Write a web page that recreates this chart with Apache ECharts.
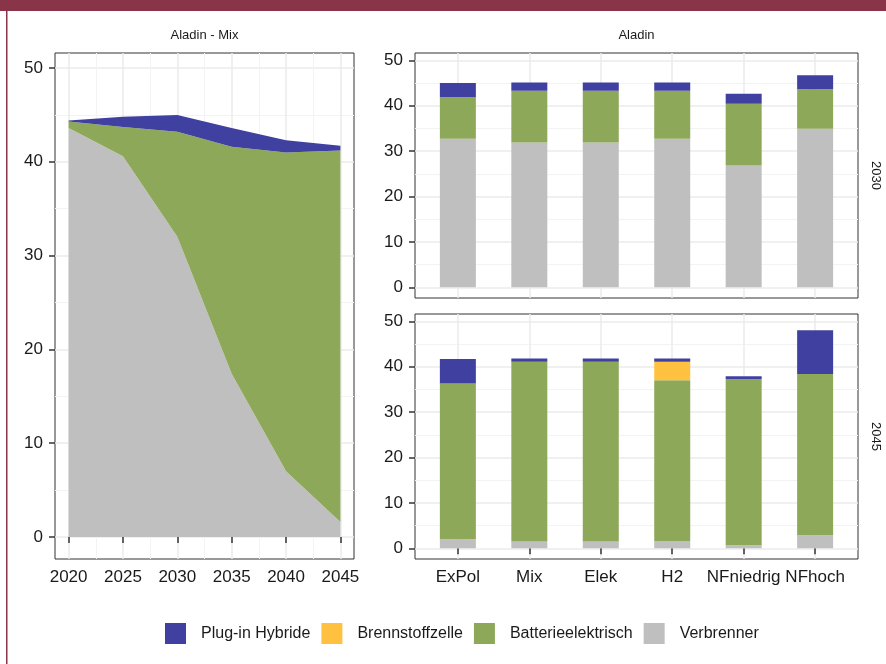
<!DOCTYPE html>
<html>
<head>
<meta charset="utf-8">
<script src="https://cdn.jsdelivr.net/npm/echarts@6/dist/echarts.min.js"></script>
<style>
  html, body { margin: 0; padding: 0; background: #fff; }
  #main { width: 886px; height: 664px; }
</style>
</head>
<body>
<div id="main"></div>
<script>
// Aladin - Mix, development over time
var years = [2020, 2025, 2030, 2035, 2040, 2045];
var mixVerbrenner = [43.6, 40.6, 32.0, 17.4, 7.0, 1.6];
var mixBatterie = [0.7, 3.1, 11.2, 24.2, 34.0, 39.6];
var mixBrennstoff = [0, 0, 0, 0, 0, 0];
var mixPlugin = [0.1, 1.1, 1.8, 2.0, 1.3, 0.5];

// Aladin scenarios, 2030 and 2045
var scenarios = ['ExPol', 'Mix', 'Elek', 'H2', 'NFniedrig', 'NFhoch'];
var verbrenner2030 = [32.7, 31.9, 31.9, 32.7, 26.8, 34.9];
var batterie2030 = [9.2, 11.4, 11.4, 10.6, 13.6, 8.7];
var brennstoff2030 = [0, 0, 0, 0, 0, 0];
var plugin2030 = [3.1, 1.8, 1.8, 1.8, 2.2, 3.1];
var verbrenner2045 = [2.0, 1.5, 1.5, 1.6, 0.7, 2.9];
var batterie2045 = [34.3, 39.6, 39.6, 35.4, 36.6, 35.5];
var brennstoff2045 = [0, 0, 0, 4.1, 0, 0];
var plugin2045 = [5.4, 0.7, 0.7, 0.7, 0.6, 9.6];

var yTicks = [0, 10, 20, 30, 40, 50];
var yMinorTicks = [5, 15, 25, 35, 45];
var yearMinorTicks = [2022.5, 2027.5, 2032.5, 2037.5, 2042.5];
var scenarioTicks = [1, 2, 3, 4, 5, 6];

var names = ['Plug-in Hybride', 'Brennstoffzelle', 'Batterieelektrisch', 'Verbrenner'];
var colors = {
    'Plug-in Hybride': '#4040A0',
    'Brennstoffzelle': '#FFC13F',
    'Batterieelektrisch': '#8EA85A',
    'Verbrenner': '#BFBFBF'
};

var yMin = -2.35, yMax = 51.6;
var font = 'Liberation Sans';
var axisText = { color: '#1a1a1a', fontSize: 17, fontFamily: font };
var tickStyle = { color: '#333', width: 1.5 };

function yMajor(grid) {
    return {
        type: 'value', gridIndex: grid, min: yMin, max: yMax,
        axisLine: { show: false },
        axisTick: { show: true, length: 6, customValues: yTicks, lineStyle: tickStyle },
        axisLabel: Object.assign({ customValues: yTicks, margin: 12 }, axisText),
        splitLine: { show: true, lineStyle: { color: '#EBEBEB', width: 1.5 } }
    };
}
function minorAxis(grid, min, max, ticks) {
    return {
        type: 'value', gridIndex: grid, min: min, max: max,
        axisLine: { show: false },
        axisTick: { show: false, length: 0, customValues: ticks },
        axisLabel: { show: false, customValues: ticks },
        splitLine: { show: true, lineStyle: { color: '#F3F3F3', width: 1 } }
    };
}
function scenarioAxis(grid, showLabels) {
    return {
        type: 'value', gridIndex: grid, min: 0.4, max: 6.6,
        axisLine: { show: false },
        axisTick: {
            show: showLabels, length: showLabels ? 6 : 0, customValues: scenarioTicks,
            lineStyle: showLabels ? tickStyle : { width: 0 }
        },
        axisLabel: Object.assign({
            show: showLabels, customValues: scenarioTicks, margin: 10,
            formatter: function (v) { return scenarios[Math.round(v) - 1]; }
        }, axisText),
        splitLine: { show: true, lineStyle: { color: '#EBEBEB', width: 1.5 } }
    };
}

// value first so the y dimension is the one that gets stacked
function pairs(xs, vals) {
    return xs.map(function (x, i) { return [vals[i], x]; });
}
var order = ['Verbrenner', 'Batterieelektrisch', 'Brennstoffzelle', 'Plug-in Hybride'];

var barSeries = [];
var panels = [
    { idx: 1, stack: 's2030', vals: { 'Verbrenner': verbrenner2030, 'Batterieelektrisch': batterie2030, 'Brennstoffzelle': brennstoff2030, 'Plug-in Hybride': plugin2030 } },
    { idx: 2, stack: 's2045', vals: { 'Verbrenner': verbrenner2045, 'Batterieelektrisch': batterie2045, 'Brennstoffzelle': brennstoff2045, 'Plug-in Hybride': plugin2045 } }
];
panels.forEach(function (p) {
    order.forEach(function (n) {
        barSeries.push({
            name: n, type: 'bar', stack: p.stack,
            xAxisIndex: p.idx, yAxisIndex: p.idx,
            barWidth: 36,
            encode: { x: 1, y: 0 },
            itemStyle: { color: colors[n] },
            data: pairs(scenarioTicks, p.vals[n])
        });
    });
});

var mixVals = { 'Verbrenner': mixVerbrenner, 'Batterieelektrisch': mixBatterie, 'Brennstoffzelle': mixBrennstoff, 'Plug-in Hybride': mixPlugin };
var areaSeries = order.map(function (n) {
    return {
        name: n, type: 'line', stack: 'mix',
        xAxisIndex: 0, yAxisIndex: 0,
        symbol: 'none', color: colors[n],
        encode: { x: 1, y: 0 },
        lineStyle: { width: 0, color: colors[n] },
        itemStyle: { color: colors[n] },
        areaStyle: { color: colors[n], opacity: 1 },
        data: pairs(years, mixVals[n])
    };
});

var chart = echarts.init(document.getElementById('main'));
chart.setOption({
    backgroundColor: '#fff',
    animation: false,
    textStyle: { fontFamily: font },
    grid: [
        { left: 55, top: 53, width: 299, height: 506, show: true, borderColor: '#333', borderWidth: 1 },
        { left: 415, top: 53, width: 443, height: 245, show: true, borderColor: '#333', borderWidth: 1 },
        { left: 415, top: 314, width: 443, height: 245, show: true, borderColor: '#333', borderWidth: 1 }
    ],
    xAxis: [
        {
            type: 'value', gridIndex: 0, min: 2018.75, max: 2046.25,
            axisLine: { show: false },
            axisTick: { show: true, length: 6, customValues: years, lineStyle: tickStyle },
            axisLabel: Object.assign({ customValues: years, margin: 10, formatter: function (v) { return String(v); } }, axisText),
            splitLine: { show: true, lineStyle: { color: '#EBEBEB', width: 1.5 } }
        },
        scenarioAxis(1, false),
        scenarioAxis(2, true),
        minorAxis(0, 2018.75, 2046.25, yearMinorTicks)
    ],
    yAxis: [
        yMajor(0), yMajor(1), yMajor(2),
        minorAxis(0, yMin, yMax, yMinorTicks),
        minorAxis(1, yMin, yMax, yMinorTicks),
        minorAxis(2, yMin, yMax, yMinorTicks)
    ],
    legend: {
        data: names,
        left: 165, top: 623,
        padding: 0,
        icon: 'rect',
        itemWidth: 21, itemHeight: 21, itemGap: 11,
        selectedMode: false,
        textStyle: { fontSize: 16, color: '#1a1a1a', fontFamily: font, padding: [0, 0, 0, 10] }
    },
    graphic: [
        { type: 'rect', shape: { x: 0, y: 0, width: 886, height: 11 }, style: { fill: '#8A3449' } },
        { type: 'rect', shape: { x: 6, y: 0, width: 1.5, height: 664 }, style: { fill: '#8A3449' } },
        { type: 'text', x: 204.5, y: 35.5, style: { text: 'Aladin - Mix', fill: '#1a1a1a', font: '13px "Liberation Sans"', align: 'center', verticalAlign: 'middle' } },
        { type: 'text', x: 636.5, y: 35.5, style: { text: 'Aladin', fill: '#1a1a1a', font: '13px "Liberation Sans"', align: 'center', verticalAlign: 'middle' } },
        { type: 'text', x: 876, y: 175.5, rotation: -Math.PI / 2, style: { text: '2030', fill: '#1a1a1a', font: '13px "Liberation Sans"', align: 'center', verticalAlign: 'middle' } },
        { type: 'text', x: 876, y: 436.5, rotation: -Math.PI / 2, style: { text: '2045', fill: '#1a1a1a', font: '13px "Liberation Sans"', align: 'center', verticalAlign: 'middle' } }
    ],
    series: barSeries.concat(areaSeries)
});
</script>
</body>
</html>
